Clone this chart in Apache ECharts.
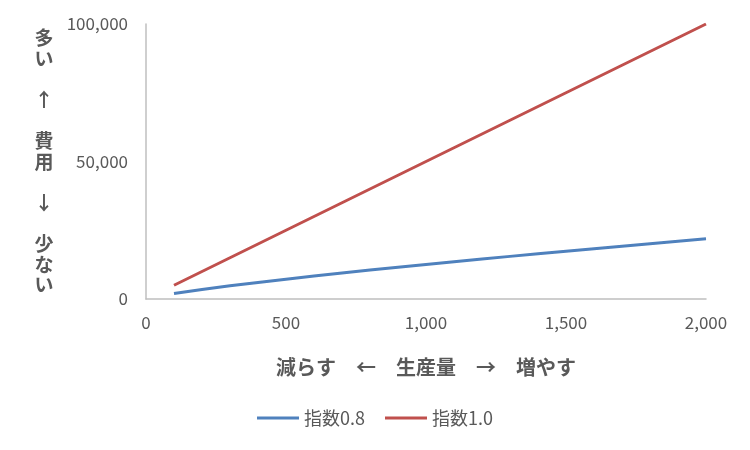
<!DOCTYPE html>
<html><head><meta charset="utf-8">
<script src="https://cdn.jsdelivr.net/npm/echarts@6/dist/echarts.min.js"></script>
<style>html,body{margin:0;padding:0;background:#fff}#c{width:750px;height:450px}</style>
</head><body><div id="c"></div>
<script>
const xValues = [100,200,300,400,500,600,700,800,900,1000,1100,1200,1300,1400,1500,1600,1700,1800,1900,2000];
const series08 = [1990,3470,4790,6030,7210,8350,9440,10510,11540,12560,13550,14530,15500,16450,17380,18300,19210,20110,21000,21870];
const series10 = [5000,10000,15000,20000,25000,30000,35000,40000,45000,50000,55000,60000,65000,70000,75000,80000,85000,90000,95000,100000];
const seriesNames = ['指数0.8','指数1.0'];
const xName = '減らす　←　生産量　→　増やす';
const yName = '多\nい\n\n↑\n\n費\n用\n\n↓\n\n少\nな\nい';
const font = '"Noto Sans CJK JP", sans-serif';
const chart = echarts.init(document.getElementById('c'));
const pair = (xs, ys) => xs.map((x, i) => [x, ys[i]]);
chart.setOption({
  animation: false,
  textStyle: {fontFamily: font},
  grid: {left: 146, right: 44, top: 24, bottom: 151},
  xAxis: {
    type: 'value', min: 0, max: 2000, interval: 500,
    axisLine: {show: true, lineStyle: {color: '#BFBFBF', width: 1.5}},
    axisTick: {show: false}, splitLine: {show: false},
    axisLabel: {color: '#595959', fontSize: 17, margin: 15, fontFamily: font},
    name: xName, nameLocation: 'middle', nameGap: 58,
    nameTextStyle: {color: '#595959', fontSize: 20, fontWeight: 'bold', fontFamily: font}
  },
  yAxis: {
    type: 'value', min: 0, max: 100000, interval: 50000,
    axisLine: {show: true, lineStyle: {color: '#BFBFBF', width: 1.5}},
    axisTick: {show: false}, splitLine: {show: false},
    axisLabel: {color: '#595959', fontSize: 17, margin: 18, fontFamily: font},
    name: yName, nameLocation: 'middle', nameRotate: 0, nameGap: 102,
    nameTextStyle: {color: '#595959', fontSize: 19, fontWeight: 'bold', fontFamily: font, align: 'center', verticalAlign: 'middle', lineHeight: 20.6}
  },
  legend: {
    top: 404, left: 'center', icon: 'rect', itemWidth: 42, itemHeight: 3, itemGap: 20,
    textStyle: {color: '#595959', fontSize: 18, fontFamily: font, padding: [0, 0, 0, 0]},
    data: seriesNames
  },
  series: [
    {name: seriesNames[0], type: 'line', showSymbol: false, symbol: 'none', data: pair(xValues, series08),
     lineStyle: {color: '#4F81BD', width: 3}, itemStyle: {color: '#4F81BD'}},
    {name: seriesNames[1], type: 'line', showSymbol: false, symbol: 'none', data: pair(xValues, series10),
     lineStyle: {color: '#C0504D', width: 3}, itemStyle: {color: '#C0504D'}}
  ]
});
</script></body></html>
